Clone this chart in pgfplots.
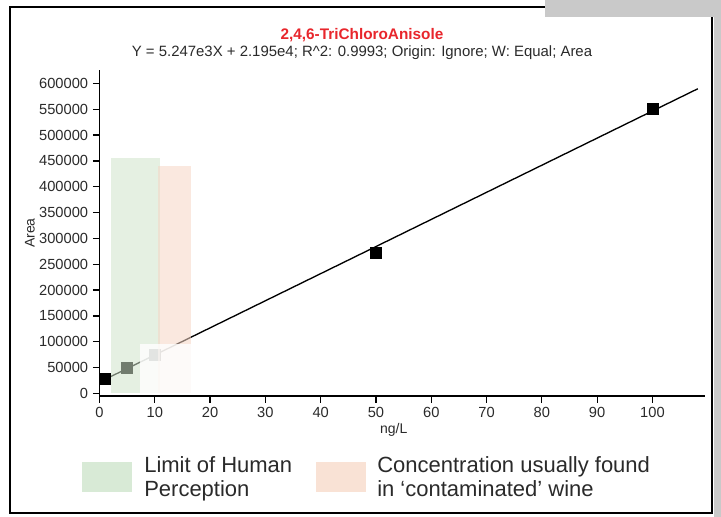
\documentclass[border=0pt]{standalone}
\usepackage{fontspec}
\setmainfont{Liberation Sans}
\usepackage{pgfplots}
\pgfplotsset{compat=1.18}
\definecolor{hpgreen}{HTML}{CFE3CA}
\definecolor{cworange}{HTML}{F5D5C5}
\definecolor{swgreen}{HTML}{D8EAD6}
\definecolor{sworange}{HTML}{F9E2D5}
\definecolor{framegray}{HTML}{C9C9C9}
\definecolor{titlered}{HTML}{E8262C}
\definecolor{txt}{HTML}{2A2A2A}

\begin{document}
\begin{tikzpicture}
\begin{scope}[x=0.75pt,y=-0.75pt]
  \path[use as bounding box] (0,0) rectangle (721,517);
  \draw[line width=1.1pt] (10,7) rectangle (712,513);
  \fill[framegray] (545,0) rectangle (721,17);
  \fill[framegray] (714,0) rectangle (721,517);
  % titles
  \node[font=\bfseries\fontsize{11.5}{13}\selectfont, text=titlered] at (362,35) {2,4,6-TriChloroAnisole};
  \node[font=\fontsize{11.2}{13}\selectfont, text=txt] at (362,53) {Y = 5.247e3X + 2.195e4; R\^{}2: 0.9993; Origin: Ignore; W: Equal; Area};
  % legend
  \fill[swgreen] (82,462) rectangle (132,492);
  \fill[sworange] (316,462) rectangle (366,492);
  \node[anchor=base west, inner sep=0pt, font=\fontsize{16.5}{18}\selectfont, text=txt] at (144,472.7) {Limit of Human};
  \node[anchor=base west, inner sep=0pt, font=\fontsize{16.5}{18}\selectfont, text=txt] at (144,496) {Perception};
  \node[anchor=base west, inner sep=0pt, font=\fontsize{16.5}{18}\selectfont, text=txt] at (377,472.7) {Concentration usually found};
  \node[anchor=base west, inner sep=0pt, font=\fontsize{16.5}{18}\selectfont, text=txt] at (377,496) {in `contaminated' wine};
\end{scope}

\begin{axis}[
    at={(74.625pt,-297pt)}, anchor=south west,
    scale only axis, width=454.1pt, height=244.5pt,
    set layers=standard,
    xmin=0, xmax=109.5, ymin=-5000, ymax=626000,
    axis x line=bottom, axis y line=left,
    axis line style={line width=1pt, -},
    xtick={0,10,...,100}, ytick={0,50000,...,600000},
    scaled y ticks=false,
    tick align=outside, major tick length=5pt,
    tick style={line width=0.9pt, black},
    /pgf/number format/assume math mode=true,
    yticklabel style={/pgf/number format/fixed, /pgf/number format/1000 sep={}},
    ticklabel style={font=\fontsize{11}{13}\selectfont, text=txt},
    xlabel={ng/L}, ylabel={Area},
    xlabel style={font=\fontsize{10.5}{12}\selectfont, text=txt, at={(axis description cs:0.486,-0.104)}, anchor=center},
    ylabel style={font=\fontsize{10.5}{12}\selectfont, text=txt, at={(axis description cs:-0.115,0.5)}, anchor=center},
    clip=false,
  ]
  % calibration fit line
  \addplot[black, line width=1pt] coordinates {(0.5,24574)(108.2,589675)};
  % standards
  \addplot[only marks, mark=square*, mark size=4.1pt, black]
    coordinates {(1,28000)(5,49400)(10,74500)(50,272500)(100,551500)};
  % shaded ranges, laid over the points
  \addplot[on layer=axis foreground, draw=none, fill=hpgreen, opacity=0.55] coordinates {(2,0)(2,455000)(11,455000)(11,0)} -- cycle;
  \addplot[on layer=axis foreground, draw=none, fill=cworange, opacity=0.55] coordinates {(10.5,0)(10.5,440000)(16.5,440000)(16.5,0)} -- cycle;
  \addplot[on layer=axis foreground, draw=none, fill=white, opacity=0.8] coordinates {(7.3,0)(7.3,95000)(17,95000)(17,0)} -- cycle;
\end{axis}
\end{tikzpicture}
\end{document}
